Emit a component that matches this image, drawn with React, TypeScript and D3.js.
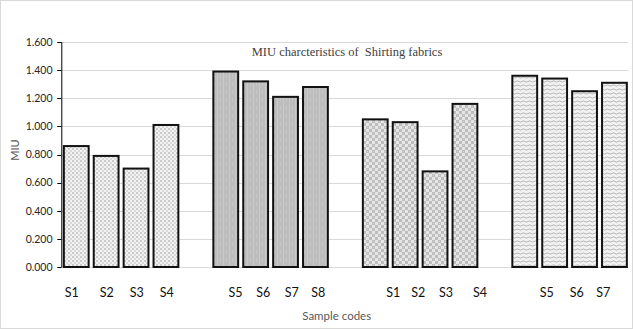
import React from "react";
import * as d3 from "d3";

const barCodes = ["S1","S2","S3","S4","S5","S6","S7","S8","S1","S2","S3","S4","S5","S6","S7","S8"];
const miuValues = [0.86,0.79,0.70,1.01,1.39,1.32,1.21,1.28,1.05,1.03,0.68,1.16,1.36,1.34,1.25,1.31];
const groupSize = 4;
const slotCount = 19;
const yTicks = [0,0.2,0.4,0.6,0.8,1.0,1.2,1.4,1.6];
const xLabelTexts = ["S1","S2","S3","S4","S5","S6","S7","S8","S1","S2","S3","S4","S5","S6","S7"];
const xLabelSlots = [0.348,1.518,2.522,3.525,5.826,6.756,7.706,8.595,11.104,11.94,12.866,14.003,16.234,17.237,18.127];
const title = "MIU charcteristics of  Shirting fabrics";
const yTitle = "MIU";
const xTitle = "Sample codes";

const W = 633, H = 329;
const left = 61.3, right = 629.4, top = 42, bottom = 267;

export default function App() {
  const slots = d3.range(slotCount);
  const x = d3.scaleBand<number>().domain(slots).range([left, right]).paddingInner(0.17).paddingOuter(0.085);
  const xl = d3.scaleLinear().domain([0, slotCount]).range([left, right]);
  const y = d3.scaleLinear().domain([0, 1.6]).range([bottom, top]);
  const fmt = d3.format(".3f");
  const bars = miuValues.map((v, k) => ({ v, code: barCodes[k], slot: k + Math.floor(k / groupSize), g: Math.floor(k / groupSize) }));
  const fills = ["url(#p0)", "url(#p1)", "url(#p2)", "url(#p3)"];
  const sans = "Lato, 'Open Sans', sans-serif";
  return (
    <svg width={W} height={H} style={{ position: "absolute", left: 0, top: 0, background: "#fff" }}>
      <defs>
        <pattern id="p0" width="4" height="4" patternUnits="userSpaceOnUse">
          <rect width="4" height="4" fill="#f2f2f2" />
          <circle cx="1" cy="1" r="0.9" fill="#b8b8b8" />
          <circle cx="3" cy="3" r="0.9" fill="#cfcfcf" />
        </pattern>
        <pattern id="p1" width="6" height="8" patternUnits="userSpaceOnUse">
          <rect width="6" height="8" fill="#bdbdbd" />
          <rect x="1" width="1" height="8" fill="#c9c9c9" />
          <rect x="4" y="2" width="1" height="4" fill="#c6c6c6" />
        </pattern>
        <pattern id="p2" width="6" height="6" patternUnits="userSpaceOnUse">
          <rect width="6" height="6" fill="#e6e6e6" />
          <rect x="0" y="0" width="3" height="3" fill="#bdbdbd" />
          <rect x="3" y="3" width="3" height="3" fill="#bdbdbd" />
          <circle cx="1.5" cy="1.5" r="0.6" fill="#d8d8d8" />
        </pattern>
        <pattern id="p3" width="6" height="4" patternUnits="userSpaceOnUse">
          <rect width="6" height="4" fill="#f2f2f2" />
          <path d="M0,1.5 Q1.5,0.3 3,1.5 T6,1.5" stroke="#b5b5b5" strokeWidth="1" fill="none" />
        </pattern>
      </defs>
      <rect x={0.5} y={0.5} width={W - 1} height={H - 1} fill="#fff" stroke="#d9d9d9" />
      {yTicks.map((t) => (
        <line key={"g" + t} x1={left} x2={right - 1} y1={Math.round(y(t)) + 0.5} y2={Math.round(y(t)) + 0.5} stroke="#d9d9d9" strokeWidth={1.2} />
      ))}
      {yTicks.map((t) => (
        <g key={"t" + t}>
          <line x1={left - 4} x2={left} y1={Math.round(y(t)) + 0.5} y2={Math.round(y(t)) + 0.5} stroke="#000" />
          <text x={52.5} y={y(t) + 3.8} textAnchor="end" fontFamily={sans} fontSize={10.5} fill="#262626">{fmt(t)}</text>
        </g>
      ))}
      <line x1={left + 0.5} x2={left + 0.5} y1={top} y2={bottom + 0.5} stroke="#000" />
      {bars.map((b, k) => (
        <rect key={k} x={x(b.slot)!} y={y(b.v)} width={x.bandwidth()} height={y(0) - y(b.v)} fill={fills[b.g]} stroke="#111" strokeWidth={2} />
      ))}
      <text x={347} y={56} textAnchor="middle" fontFamily="'Liberation Serif', 'Times New Roman', serif" fontSize={12.5} fill="#404040" style={{ whiteSpace: "pre" }}>{title}</text>
      {xLabelTexts.map((s, i) => (
        <text key={"x" + i} x={xl(xLabelSlots[i])} y={296.5} textAnchor="middle" fontFamily={sans} fontSize={12.5} fill="#111">{s}</text>
      ))}
      <text x={336.7} y={320} textAnchor="middle" fontFamily={sans} fontSize={11.5} fill="#595959">{xTitle}</text>
      <text transform={`translate(18.5,150) rotate(-90)`} textAnchor="middle" fontFamily={sans} fontSize={11} fill="#595959">{yTitle}</text>
    </svg>
  );
}
